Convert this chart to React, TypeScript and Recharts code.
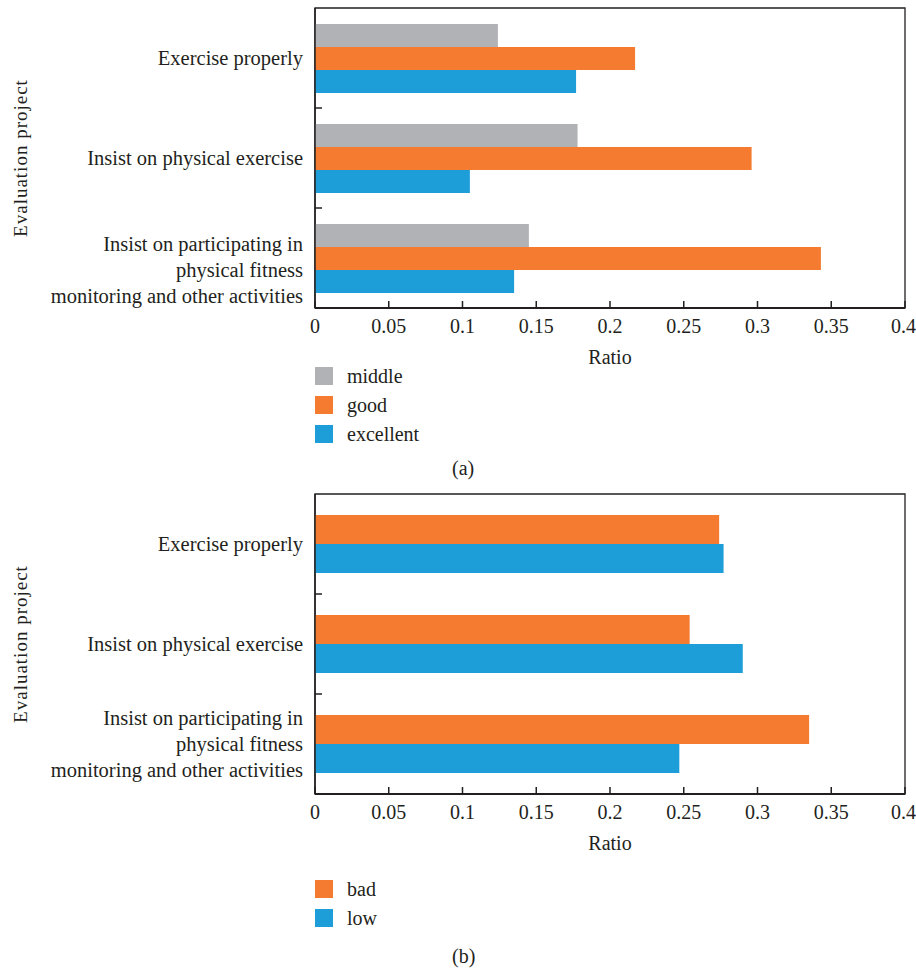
import { BarChart, Bar, XAxis, YAxis, ReferenceArea } from "recharts";

const categories = [
  "Exercise properly",
  "Insist on physical exercise",
  "Insist on participating in\nphysical fitness\nmonitoring and other activities",
];

// (a)
const middleValues = [0.124, 0.178, 0.145];
const goodValues = [0.217, 0.296, 0.343];
const excellentValues = [0.177, 0.105, 0.135];

// (b)
const badValues = [0.274, 0.254, 0.335];
const lowValues = [0.277, 0.29, 0.247];

const ratioTicks = [0, 0.05, 0.1, 0.15, 0.2, 0.25, 0.3, 0.35, 0.4];

const GRAY = "#b1b2b6";
const ORANGE = "#f47b30";
const BLUE = "#1e9ed8";
const INK = "#231f20";
const FONT = "'Liberation Serif', 'Times New Roman', serif";

const W = 916;
const CH = 370;
const TOP = 8;
const AXIS_H = 62;
const YAXIS_W = 315;
const RIGHT = 11;
const PLOT_H = CH - TOP - AXIS_H;
const BAND = PLOT_H / categories.length;

interface Series {
  key: string;
  name: string;
  color: string;
  values: number[];
}

const seriesA: Series[] = [
  { key: "middle", name: "middle", color: GRAY, values: middleValues },
  { key: "good", name: "good", color: ORANGE, values: goodValues },
  { key: "excellent", name: "excellent", color: BLUE, values: excellentValues },
];

const seriesB: Series[] = [
  { key: "bad", name: "bad", color: ORANGE, values: badValues },
  { key: "low", name: "low", color: BLUE, values: lowValues },
];

function buildRows(series: Series[]) {
  return categories.map((name, i) => {
    const row: Record<string, string | number> = { name };
    series.forEach((s) => {
      row[s.key] = s.values[i];
    });
    return row;
  });
}

function CategoryTick(props: any) {
  const { y, payload, index, multiOffset } = props;
  const lines = String(payload.value).split("\n");
  const lh = 26;
  const startY = y - ((lines.length - 1) * lh) / 2 + (lines.length > 1 ? multiOffset : 0);
  return (
    <g>
      {index > 0 && (
        <line x1={YAXIS_W} x2={YAXIS_W + 7} y1={y - BAND / 2} y2={y - BAND / 2} stroke={INK} strokeWidth={1.5} />
      )}
      <text textAnchor="end" fontSize={20.5} fill={INK} fontFamily={FONT}>
        {lines.map((l, i) => (
          <tspan key={i} x={YAXIS_W - 12} y={startY + i * lh} dy="0.35em">
            {l}
          </tspan>
        ))}
      </text>
    </g>
  );
}

function YTitle(props: any) {
  const vb = props.viewBox || {};
  const cy = (vb.y ?? TOP) + (vb.height ?? PLOT_H) / 2;
  return (
    <text
      transform={`translate(20, ${cy}) rotate(-90)`}
      textAnchor="middle"
      dy="0.35em"
      fontSize={19}
      letterSpacing={1}
      fill={INK}
      fontFamily={FONT}
    >
      Evaluation project
    </text>
  );
}

function EvalChart({ series, gap, multiOffset }: { series: Series[]; gap: string; multiOffset: number }) {
  const data = buildRows(series);
  return (
    <BarChart
      width={W}
      height={CH}
      data={data}
      layout="vertical"
      margin={{ top: TOP, right: RIGHT, left: 0, bottom: 0 }}
      barCategoryGap={gap}
      barGap={0}
    >
      <XAxis
        type="number"
        domain={[0, 0.4]}
        ticks={ratioTicks}
        height={AXIS_H}
        tickSize={-7}
        tickMargin={18}
        tickLine={{ stroke: INK, strokeWidth: 1.5 }}
        axisLine={{ stroke: INK, strokeWidth: 2 }}
        tick={{ fontSize: 20, fill: INK, fontFamily: FONT }}
        label={{ value: "Ratio", position: "insideBottom", offset: 6, fontSize: 20, fill: INK, fontFamily: FONT }}
      />
      <YAxis
        type="category"
        dataKey="name"
        width={YAXIS_W}
        tickLine={false}
        axisLine={{ stroke: INK, strokeWidth: 1.5 }}
        tick={(p: any) => <CategoryTick {...p} multiOffset={multiOffset} />}
        label={YTitle}
      />
      {series.map((s) => (
        <Bar key={s.key} dataKey={s.key} name={s.name} fill={s.color} isAnimationActive={false} />
      ))}
      <ReferenceArea x1={0} x2={0.4} stroke={INK} strokeWidth={1.3} fill="none" fillOpacity={0} />
    </BarChart>
  );
}

function LegendBox({ series, top }: { series: Series[]; top: number }) {
  return (
    <div style={{ position: "absolute", left: 315, top, fontFamily: FONT, fontSize: 20, color: INK }}>
      {series.map((s) => (
        <div key={s.key} style={{ display: "flex", alignItems: "center", height: 29 }}>
          <span style={{ width: 18, height: 18, background: s.color, display: "inline-block", marginRight: 14 }} />
          <span style={{ lineHeight: "18px" }}>{s.name}</span>
        </div>
      ))}
    </div>
  );
}

export default function App() {
  return (
    <div style={{ position: "absolute", left: 0, top: 0, width: W, height: 970, background: "#fff", fontFamily: FONT }}>
      <div style={{ position: "absolute", left: 0, top: 0 }}>
        <EvalChart series={seriesA} gap="16%" multiOffset={12} />
      </div>
      <LegendBox series={seriesA} top={361} />
      <div style={{ position: "absolute", left: 452, top: 457, fontSize: 20, color: INK }}>(a)</div>

      <div style={{ position: "absolute", left: 0, top: 486 }}>
        <EvalChart series={seriesB} gap="21%" multiOffset={0} />
      </div>
      <LegendBox series={seriesB} top={874} />
      <div style={{ position: "absolute", left: 452, top: 945, fontSize: 20, color: INK }}>(b)</div>
    </div>
  );
}
